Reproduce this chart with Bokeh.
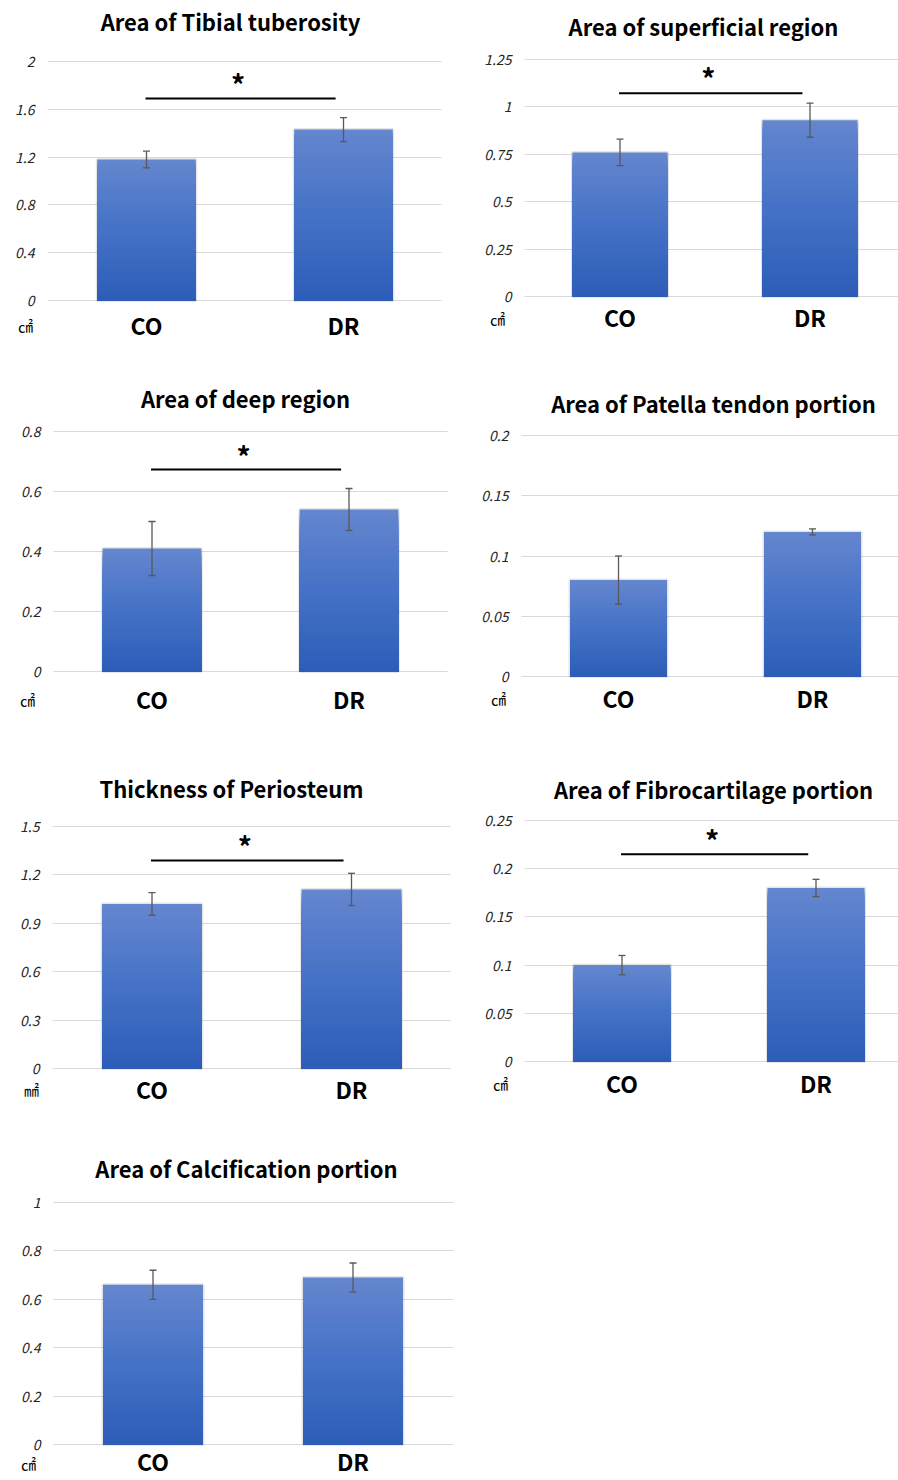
import numpy as np
from bokeh.plotting import figure
from bokeh.models import Range1d, FixedTicker, Whisker, TeeHead, ColumnDataSource, Label
from bokeh.layouts import column, row
from bokeh.embed import file_html
from bokeh.resources import INLINE
from bokeh.core.properties import value

# ---------------- data ----------------
groups = ["CO", "DR"]

titles = [
    "Area of Tibial tuberosity",
    "Area of superficial region",
    "Area of deep region",
    "Area of Patella tendon portion",
    "Thickness of Periosteum",
    "Area of Fibrocartilage portion",
    "Area of Calcification portion",
]
units = ["㎠", "㎠", "㎠", "㎠", "㎟", "㎠", "㎠"]

tibial_mean = [1.18, 1.43]
tibial_err = [0.07, 0.10]
superficial_mean = [0.76, 0.93]
superficial_err = [0.07, 0.09]
deep_mean = [0.41, 0.54]
deep_err = [0.09, 0.07]
patella_mean = [0.08, 0.12]
patella_err = [0.02, 0.0025]
periosteum_mean = [1.02, 1.11]
periosteum_err = [0.07, 0.10]
fibro_mean = [0.10, 0.18]
fibro_err = [0.01, 0.009]
calc_mean = [0.66, 0.69]
calc_err = [0.06, 0.06]

tibial_ticks = [0, 0.4, 0.8, 1.2, 1.6, 2]
superficial_ticks = [0, 0.25, 0.5, 0.75, 1, 1.25]
deep_ticks = [0, 0.2, 0.4, 0.6, 0.8]
patella_ticks = [0, 0.05, 0.1, 0.15, 0.2]
periosteum_ticks = [0, 0.3, 0.6, 0.9, 1.2, 1.5]
fibro_ticks = [0, 0.05, 0.1, 0.15, 0.2, 0.25]
calc_ticks = [0, 0.2, 0.4, 0.6, 0.8, 1]

significant = [True, True, True, False, True, True, False]

means = [tibial_mean, superficial_mean, deep_mean, patella_mean,
         periosteum_mean, fibro_mean, calc_mean]
errs = [tibial_err, superficial_err, deep_err, patella_err,
        periosteum_err, fibro_err, calc_err]
ticks = [tibial_ticks, superficial_ticks, deep_ticks, patella_ticks,
         periosteum_ticks, fibro_ticks, calc_ticks]

# ---------------- layout (page pixels) ----------------
ROWS = [(0, 360), (360, 380), (740, 385), (1125, 354)]
COLS = [(0, 460), (460, 438)]
LAY = [
    dict(r=0, c=0, cx=146.0, u=197.0, gx0=47, gx1=441, ytop=61, y0=300, tx=230, ty=20, ux=25, uy=325, cy=325, br=1.69, st=1.84),
    dict(r=0, c=1, cx=619.5, u=190.0, gx0=524, gx1=898, ytop=59, y0=296, tx=703, ty=25, ux=497, uy=318, cy=317, br=1.072, st=1.166),
    dict(r=1, c=0, cx=151.5, u=197.0, gx0=53, gx1=447, ytop=431, y0=671, tx=245, ty=397, ux=27, uy=699, cy=699, br=0.673, st=0.73),
    dict(r=1, c=1, cx=618.0, u=194.0, gx0=521, gx1=898, ytop=435, y0=676, tx=713, ty=402, ux=498, uy=698, cy=698, br=None, st=None),
    dict(r=2, c=0, cx=151.5, u=199.5, gx0=52, gx1=450, ytop=826, y0=1068, tx=231, ty=787, ux=31, uy=1089, cy=1089, br=1.289, st=1.40),
    dict(r=2, c=1, cx=621.5, u=194.0, gx0=524, gx1=898, ytop=820, y0=1061, tx=713, ty=788, ux=500, uy=1083, cy=1083, br=0.215, st=0.233),
    dict(r=3, c=0, cx=152.5, u=200.0, gx0=53, gx1=453, ytop=1202, y0=1444, tx=246, ty=1167, ux=28, uy=1463, cy=1461, br=None, st=None),
]

JP = "Noto Sans CJK JP"
TOP_C = np.array([0x65, 0x86, 0xCF])
MID_C = np.array([0x44, 0x72, 0xC6])
BOT_C = np.array([0x2D, 0x5D, 0xB8])


def grad(t):
    # t = 0 bottom, 1 top
    if t < 0.5:
        c = BOT_C + (MID_C - BOT_C) * (t / 0.5)
    else:
        c = MID_C + (TOP_C - MID_C) * ((t - 0.5) / 0.5)
    c = np.clip(np.round(c), 0, 255).astype(int)
    return "#%02x%02x%02x" % tuple(c)


def make_panel(i):
    L = LAY[i]
    fy0, fh = ROWS[L["r"]]
    fx0, fw = COLS[L["c"]]
    m = means[i]
    e = errs[i]
    tk = ticks[i]
    xpos = [k + 0.5 for k in range(len(groups))]

    def xd(px):
        return (px - L["cx"]) / L["u"] + 0.5

    ppu = (L["y0"] - L["ytop"]) / tk[-1]
    ystart = -(fy0 + fh - L["y0"]) / ppu
    yend = tk[-1] + (L["ytop"] - fy0) / ppu

    p = figure(width=fw, height=fh, output_backend="svg", toolbar_location=None,
               x_range=Range1d(xd(fx0), xd(fx0 + fw)), y_range=Range1d(ystart, yend),
               min_border_left=0, min_border_right=0, min_border_top=0, min_border_bottom=0,
               background_fill_color="white", border_fill_color="white")
    p.outline_line_color = None
    p.xgrid.visible = False

    # horizontal grid lines, limited to the plot area
    g0, g1 = xd(L["gx0"]), xd(L["gx1"])
    if "cross_bounds" in p.ygrid[0].properties():
        p.ygrid.ticker = FixedTicker(ticks=tk)
        p.ygrid.grid_line_color = "#D9D9D9"
        p.ygrid.grid_line_width = 1.2
        p.ygrid.cross_bounds = (g0, g1)
    else:
        p.ygrid.visible = False
        p.segment(x0=g0, x1=g1, y0=tk, y1=tk, line_color="#D9D9D9", line_width=1.2,
                  level="underlay")

    # y axis
    ya = p.yaxis[0]
    ya.fixed_location = g0
    ya.ticker = FixedTicker(ticks=tk)
    ya.major_label_overrides = {t: f"{t:g}" for t in tk}
    ya.axis_line_color = None
    ya.major_tick_line_color = None
    ya.minor_tick_line_color = None
    ya.major_tick_out = 0
    ya.major_tick_in = 0
    ya.major_label_standoff = 13
    ya.major_label_text_font = JP
    ya.major_label_text_font_style = "italic"
    ya.major_label_text_font_size = "14px"
    ya.major_label_text_color = "#262626"

    # x axis
    xa = p.xaxis[0]
    xa.fixed_location = 0
    xa.ticker = FixedTicker(ticks=xpos)
    xa.major_label_overrides = {x: g for x, g in zip(xpos, groups)}
    xa.axis_line_color = None
    xa.major_tick_line_color = None
    xa.minor_tick_line_color = None
    xa.major_tick_out = 0
    xa.major_tick_in = 0
    xa.major_label_standoff = int(round(L["cy"] - L["y0"] - 18))
    xa.major_label_text_font = JP
    xa.major_label_text_font_style = "bold"
    xa.major_label_text_font_size = "23px"
    xa.major_label_text_color = "black"

    # soft bar shadow
    p.vbar(x=xpos, bottom=0, top=m, width=0.5, fill_color=None,
           line_color="black", line_alpha=0.10, line_width=3)

    # gradient bars: nested bars, tallest (lightest) first
    n = 48
    bx, bt, bc = [], [], []
    for k in range(n, 0, -1):
        for x, v in zip(xpos, m):
            bx.append(x)
            bt.append(v * k / n)
            bc.append(grad((k - 0.5) / n))
    p.vbar(x=bx, bottom=0, top=bt, width=0.5, fill_color=bc, line_color=None)

    # error bars
    src = ColumnDataSource(dict(x=xpos,
                                upper=[a + b for a, b in zip(m, e)],
                                lower=[a - b for a, b in zip(m, e)]))
    w = Whisker(base="x", upper="upper", lower="lower", source=src,
                line_color="#595959", line_width=1.3, level="annotation",
                upper_head=TeeHead(size=7, line_color="#595959", line_width=1.3),
                lower_head=TeeHead(size=7, line_color="#595959", line_width=1.3))
    p.add_layout(w)

    # significance bracket
    if significant[i]:
        p.segment(x0=[xpos[0] - 0.005], x1=[xpos[1] - 0.04], y0=[L["br"]], y1=[L["br"]],
                  line_color="black", line_width=2)
        p.text(x=[(xpos[0] + xpos[1]) / 2 - 0.035], y=[L["st"]], text=["*"],
               text_font=value(JP), text_font_style="bold", text_font_size="28px",
               text_align="center", text_baseline="middle", y_offset=3,
               text_color="black")

    # title and unit (screen coordinates inside the frame)
    p.add_layout(Label(x=L["tx"] - fx0, y=fy0 + fh - L["ty"], x_units="screen", y_units="screen",
                       text=titles[i], text_font=JP, text_font_style="bold",
                       text_font_size="22px", text_align="center", text_baseline="middle",
                       text_color="black"))
    p.add_layout(Label(x=L["ux"] - fx0, y=fy0 + fh - L["uy"], x_units="screen", y_units="screen",
                       text=units[i], text_font=JP, text_font_size="15px",
                       text_align="center", text_baseline="middle", text_color="black"))
    return p


figs = [make_panel(i) for i in range(7)]
layout = column(row(figs[0], figs[1]), row(figs[2], figs[3]),
                row(figs[4], figs[5]), row(figs[6]))

open("out.html", "w").write(file_html(layout, INLINE, title="Bar charts"))
